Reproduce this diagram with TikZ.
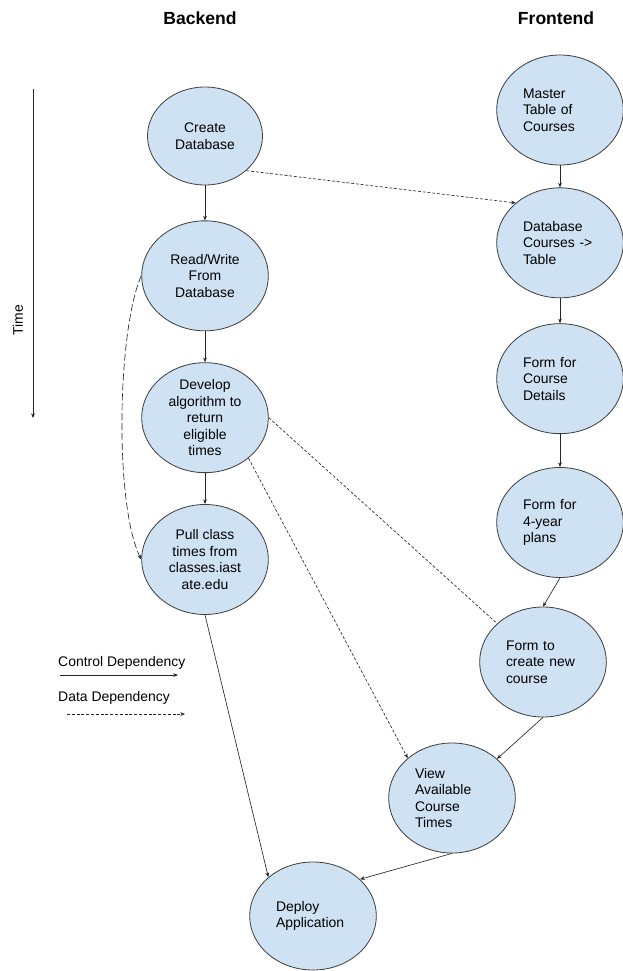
\documentclass[tikz,border=0pt]{standalone}
\usepackage{fontspec}
\setmainfont{Liberation Sans}
\usepackage{xcolor}
\usepackage{tikz}
\usetikzlibrary{arrows.meta, positioning, shapes}

\definecolor{taskblue}{HTML}{CFE2F3}

\begin{document}
\begin{tikzpicture}[
    x=0.03cm, y=-0.03cm,
    task/.style={ellipse, draw=black!75, line width=0.7pt, fill=taskblue, minimum width=3.8cm, minimum height=3.3cm, inner xsep=0pt, inner ysep=-8pt, font=\fontsize{11.9}{14.1}\selectfont},
    back/.style={task, align=center},
    front/.style={task, align=left, text width=2.22cm},
    title/.style={font=\bfseries\fontsize{15}{18}\selectfont},
    legend/.style={font=\fontsize{11.9}{14.1}\selectfont, inner sep=0pt},
    control/.style={-{Stealth[length=4pt, width=3.2pt]}, line width=0.55pt, black!85},
    datadep/.style={control, dash pattern=on 2.5pt off 1.6pt},
]
    \useasboundingbox (0,0) rectangle (623,971);

    % Column titles
    \node[title] (backtitle) at (200,18) {Backend};
    \node[title] (fronttitle) at (556,18) {Frontend};

    % Backend tasks
    \node[back, minimum width=3.45cm, minimum height=2.94cm] (create) at (205,136) {Create\\Database};
    \node[back, below=1.05cm of create] (readwrite) {Read/Write\\From\\Database};
    \node[back, below=0.93cm of readwrite] (develop) {Develop\\algorithm to\\return\\eligible\\times};
    \node[back, below=0.93cm of develop] (pull) {Pull class\\times from\\classes.iast\\ate.edu};

    % Frontend tasks
    \node[front] (master) at (560,110) {Master\\Table of\\Courses};
    \node[front, below=0.66cm of master] (dbtable) {Database\\Courses ->\\Table};
    \node[front, below=0.75cm of dbtable] (details) {Form for\\Course\\Details};
    \node[front, below=0.99cm of details] (plans) {Form for\\4-year\\plans};
    \node[front] (newcourse) at (543,662) {Form to\\create new\\course};
    \node[front] (view) at (452,798) {View\\Available\\Course\\Times};
    \node[front, minimum height=3.24cm] (deploy) at (313,916) {Deploy\\Application};

    % Time axis
    \coordinate (timetop) at (33,89);
    \coordinate (timebot) at (33,418);
    \draw[control] (timetop) -- (timebot);
    \node[legend, rotate=90] (timelabel) at (18,320) {Time};

    % Control dependencies
    \draw[control] (create) -- (readwrite);
    \draw[control] (readwrite) -- (develop);
    \draw[control] (develop) -- (pull);
    \draw[control] (pull.south) -- (deploy.139);
    \draw[control] (master) -- (dbtable);
    \draw[control] (dbtable) -- (details);
    \draw[control] (details) -- (plans);
    \draw[control] (plans.south) -- (newcourse.north);
    \draw[control] (newcourse.south) -- (view.41);
    \draw[control] (view.south) -- (deploy.38);

    % Data dependencies
    \draw[datadep] (create.-40) -- (dbtable.138);
    \draw[datadep, -] (develop.east) -- (newcourse.140);
    \draw[datadep] (develop.-43) -- (view.138);
    \draw[datadep, dash pattern=on 6pt off 2.5pt] (readwrite.west) .. controls +(-24,54) and +(-27,-55) .. (pull.west);

    % Legend
    \node[legend, anchor=west] (ctrllabel) at (58,663) {Control Dependency};
    \node[legend, anchor=west] (datalabel) at (58,698) {Data Dependency};
    \coordinate (ctrlfrom) at (60,675);
    \coordinate (ctrlto) at (178,675);
    \coordinate (datafrom) at (67,714);
    \coordinate (datato) at (185,714);
    \draw[control] (ctrlfrom) -- (ctrlto);
    \draw[datadep] (datafrom) -- (datato);
\end{tikzpicture}
\end{document}
